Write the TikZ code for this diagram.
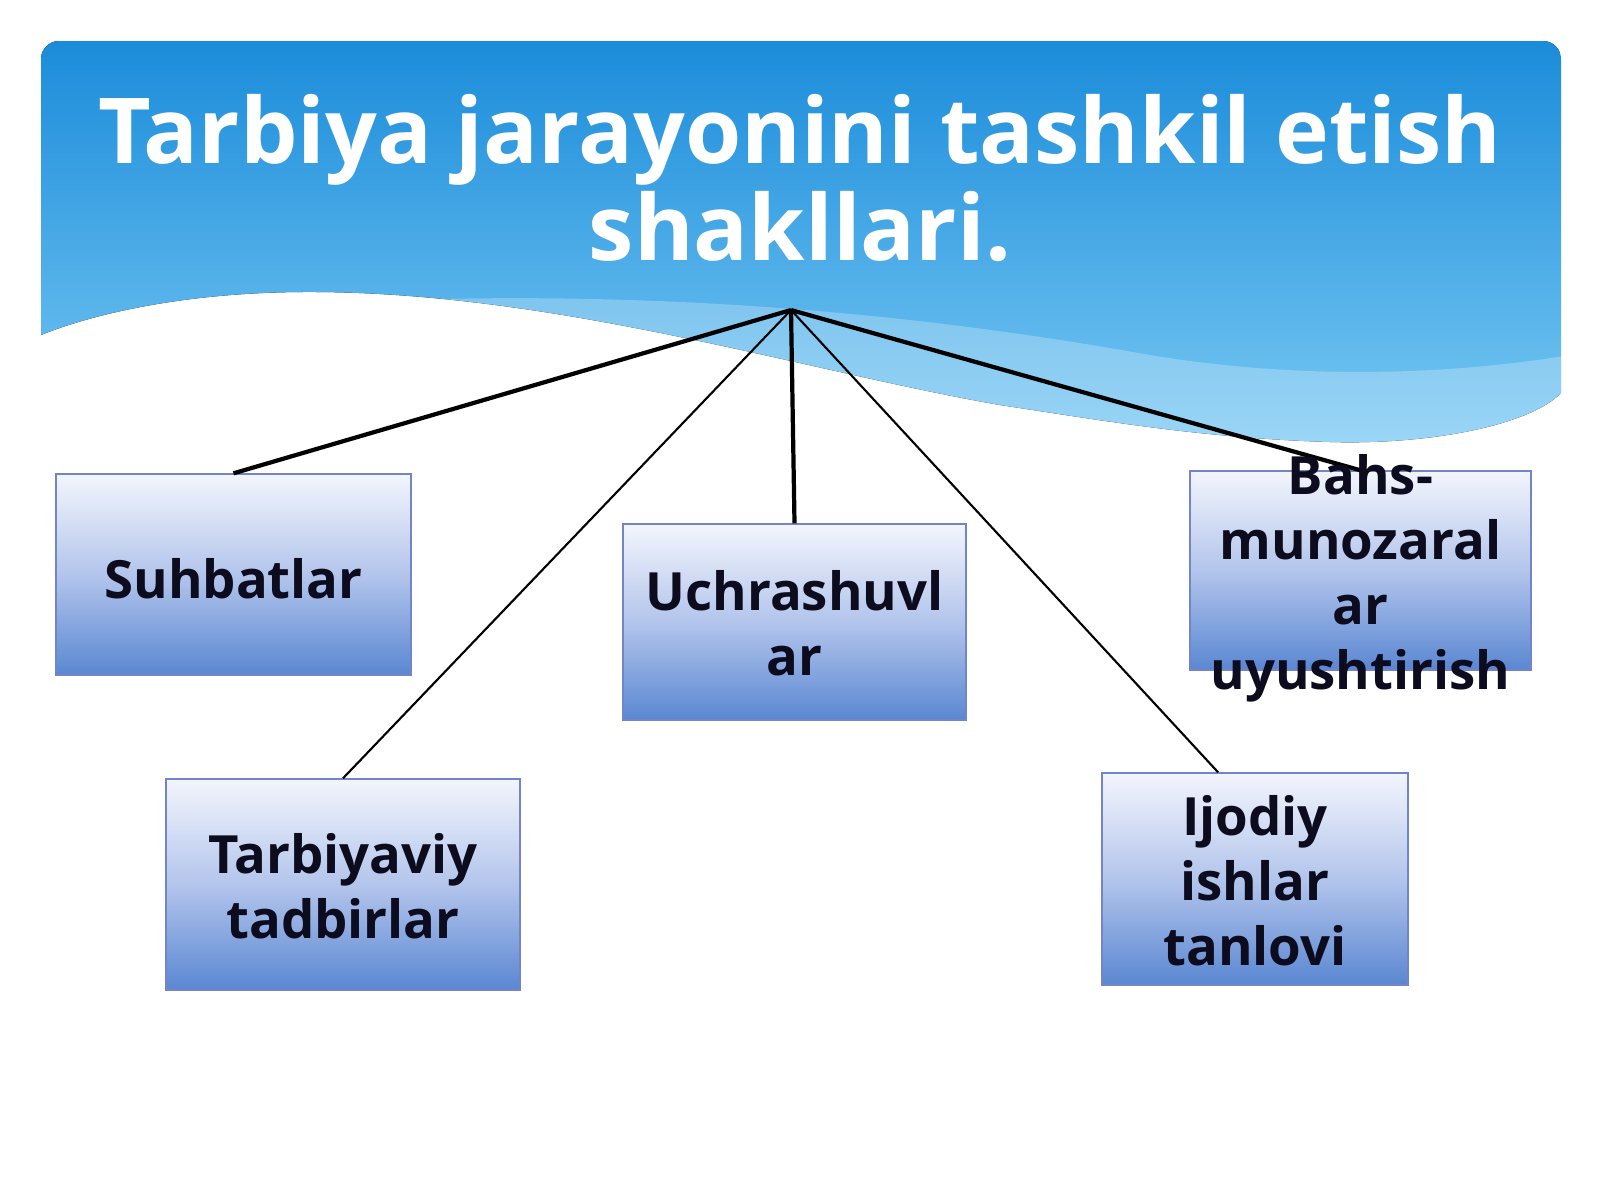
\documentclass[tikz,border=0pt]{standalone}
\usepackage{fontspec}
\setmainfont{Open Sans}
\usetikzlibrary{calc}

\definecolor{skytop}{HTML}{1B8CDA}
\definecolor{skybot}{HTML}{78C8F3}
\definecolor{boxtop}{HTML}{F3F5FC}
\definecolor{boxmid}{HTML}{B3C5EC}
\definecolor{boxbot}{HTML}{5A87D2}
\definecolor{boxline}{HTML}{7384C8}
\definecolor{boxink}{HTML}{0C0C1E}

\begin{document}
\begin{tikzpicture}[thickline/.style={line width=1.2pt,black},thinline/.style={line width=0.6pt,black},
    formbox/.style={rectangle,draw=boxline,line width=0.4pt,top color=boxtop,bottom color=boxbot,middle color=boxmid},
    formtext/.style={align=center,text=boxink,font=\bfseries\fontsize{15}{18.5}\selectfont,yshift=-0.11cm,
        execute at begin node=\strut,execute at end node=\strut}]

                \useasboundingbox (0,0) rectangle (16,-12);
                \fill[white] (0,0) rectangle (16,-12);

                % header with the wave
                \begin{scope}
                    \clip (0.41,-3.35) -- (0.41,-0.59) arc[start angle=180,end angle=90,radius=0.18]
                        -- (15.43,-0.41) arc[start angle=90,end angle=0,radius=0.18] -- (15.61,-3.93)
                        .. controls (15.3,-4.25) and (14.3,-4.45) .. (13.3,-4.42)
                        .. controls (12.0,-4.38) and (11.0,-4.2) .. (10.0,-4.05)
                        .. controls (8.0,-3.7) and (5.5,-2.9) .. (3.0,-2.92)
                        .. controls (1.8,-2.93) and (0.9,-3.15) .. (0.41,-3.35) -- cycle;
                    \fill[top color=skytop,bottom color=skybot] (0.41,-0.41) rectangle (15.61,-4.45);
                    \fill[white,opacity=0.25] (4.0,-3.0) .. controls (6.5,-2.92) and (9,-3.1) .. (11.5,-3.55)
                        .. controls (13,-3.8) and (14.5,-3.75) .. (15.7,-3.55) -- (15.7,-5) -- (4.0,-5) -- cycle;
                \end{scope}

                \node[align=center,text=white,font=\bfseries\fontsize{25.9}{27.6}\selectfont] at (8.0,-1.78) (title) {Tarbiya jarayonini tashkil etish\\shakllari.};

                \coordinate (hub) at (7.91,-3.10);

                \node[formbox,minimum width=3.55cm,minimum height=2.01cm] at (2.335,-5.745) (suhbat) {};
                \node[formbox,minimum width=3.54cm,minimum height=2.11cm] at (3.43,-8.845) (tadbir) {};
                \node[formbox,minimum width=3.43cm,minimum height=1.96cm] at (7.945,-6.22) (uchrash) {};
                \node[formbox,minimum width=3.41cm,minimum height=1.99cm] at (13.605,-5.705) (bahs) {};
                \node[formbox,minimum width=3.06cm,minimum height=2.12cm] at (12.55,-8.79) (ijod) {};

                \coordinate (ijodtop) at ($(ijod.north west)!0.38!(ijod.north east)$);

                \path[thickline] (hub) edge (suhbat.north);
                \path[thinline] (hub) edge (tadbir.north);
                \path[thickline] (hub) edge (uchrash.north);
                \path[thinline] (hub) edge (ijodtop);
                \path[thickline] (hub) edge (bahs.north);

                \node[formtext] at (suhbat) {Suhbatlar};
                \node[formtext] at (tadbir) {Tarbiyaviy\\tadbirlar};
                \node[formtext] at (uchrash) {Uchrashuvl\\ar};
                \node[formtext] at (bahs) {Bahs-\\munozaral\\ar\\uyushtirish};
                \node[formtext] at (ijod) {Ijodiy\\ishlar\\tanlovi};

            \end{tikzpicture}
\end{document}
